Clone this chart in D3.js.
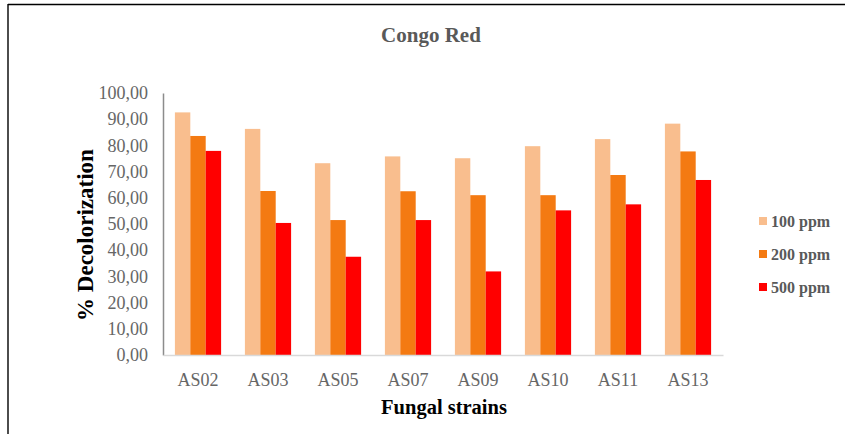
<!DOCTYPE html>
<html>
<head>
<meta charset="utf-8">
<script src="https://cdn.jsdelivr.net/npm/d3@7"></script>
<style>
  html, body { margin: 0; padding: 0; background: #fff; }
  svg { display: block; }
  text { font-family: "Liberation Serif", "Times New Roman", serif; }
</style>
</head>
<body>
<svg id="chart" width="845" height="434"></svg>
<script>
// Fungal strains tested
const strains = ["AS02", "AS03", "AS05", "AS07", "AS09", "AS10", "AS11", "AS13"];
// Dye concentrations (series)
const concentrations = ["100 ppm", "200 ppm", "500 ppm"];
// % decolorization of Congo Red per strain, one array per concentration
const values100 = [92.6, 86.3, 73.2, 75.8, 75.1, 79.7, 82.4, 88.3];
const values200 = [83.6, 62.6, 51.5, 62.5, 61.0, 61.0, 68.7, 77.7];
const values500 = [77.9, 50.4, 37.5, 51.5, 31.9, 55.2, 57.5, 66.8];
const seriesColors = ["#F9BE8E", "#F47A12", "#FF0000"];
const yTicks = [0, 10, 20, 30, 40, 50, 60, 70, 80, 90, 100];

const seriesValues = [values100, values200, values500];
const rows = strains.map((s, i) => ({
  strain: s,
  vals: concentrations.map((c, j) => ({ key: c, value: seriesValues[j][i] }))
}));

const svg = d3.select("#chart");

// outer frame (top and left edges)
svg.append("line").attr("x1", 8).attr("x2", 845).attr("y1", 4.5).attr("y2", 4.5)
  .attr("stroke", "#000").attr("stroke-width", 1.4);
svg.append("line").attr("x1", 8).attr("x2", 8).attr("y1", 4).attr("y2", 434)
  .attr("stroke", "#000").attr("stroke-width", 1.4);

const plot = { left: 163, right: 723, top: 93, bottom: 355 };

const x0 = d3.scaleBand().domain(strains).range([plot.left, plot.right]).paddingInner(0.34).paddingOuter(0.17);
const x1 = d3.scaleBand().domain(concentrations).range([0, x0.bandwidth()]);
const y = d3.scaleLinear().domain([0, 100]).range([plot.bottom, plot.top]);
const color = d3.scaleOrdinal().domain(concentrations).range(seriesColors);

const fmt = d3.formatLocale({ decimal: ",", thousands: ".", grouping: [3], currency: ["", ""] }).format(".2f");

// bars
svg.append("g").selectAll("g").data(rows).join("g")
  .attr("transform", d => `translate(${x0(d.strain)},0)`)
  .selectAll("rect").data(d => d.vals).join("rect")
  .attr("x", d => x1(d.key))
  .attr("width", x1.bandwidth())
  .attr("y", d => y(d.value))
  .attr("height", d => y(0) - y(d.value))
  .attr("fill", d => color(d.key));

// y axis
const yAxis = svg.append("g").attr("transform", `translate(${plot.left},0)`)
  .call(d3.axisLeft(y).tickValues(yTicks).tickFormat(fmt).tickSize(0).tickPadding(15));
yAxis.select(".domain").attr("stroke", "#8c8c8c").attr("stroke-width", 1.5);
yAxis.selectAll("text").attr("font-size", 18).attr("fill", "#666")
  .attr("font-family", "Liberation Serif, serif");

// x axis
const xAxis = svg.append("g").attr("transform", `translate(0,${plot.bottom})`)
  .call(d3.axisBottom(x0).tickSize(0).tickPadding(18));
xAxis.select(".domain").attr("stroke", "#d9d9d9").attr("stroke-width", 1.6);
xAxis.selectAll("text").attr("font-size", 18).attr("fill", "#666")
  .attr("font-family", "Liberation Serif, serif");

// title
svg.append("text").attr("x", 431).attr("y", 41.5).attr("text-anchor", "middle")
  .attr("font-size", 21).attr("font-weight", "bold").attr("fill", "#595959")
  .text("Congo Red");

// axis titles
svg.append("text").attr("x", 444).attr("y", 414).attr("text-anchor", "middle")
  .attr("font-size", 20.5).attr("font-weight", "bold").attr("fill", "#000")
  .text("Fungal strains");
svg.append("text").attr("transform", "translate(93,235) rotate(-90)")
  .attr("text-anchor", "middle")
  .attr("font-size", 23).attr("font-weight", "bold").attr("fill", "#000")
  .text("% Decolorization");

// legend
const legend = svg.append("g").selectAll("g").data(concentrations).join("g")
  .attr("transform", (d, i) => `translate(759,${221 + i * 33})`);
legend.append("rect").attr("x", 0).attr("y", -4).attr("width", 8).attr("height", 8)
  .attr("fill", d => color(d));
legend.append("text").attr("x", 12).attr("y", 0).attr("dy", "0.35em")
  .attr("font-size", 16).attr("font-weight", "bold").attr("fill", "#595959")
  .text(d => d);
</script>
</body>
</html>
